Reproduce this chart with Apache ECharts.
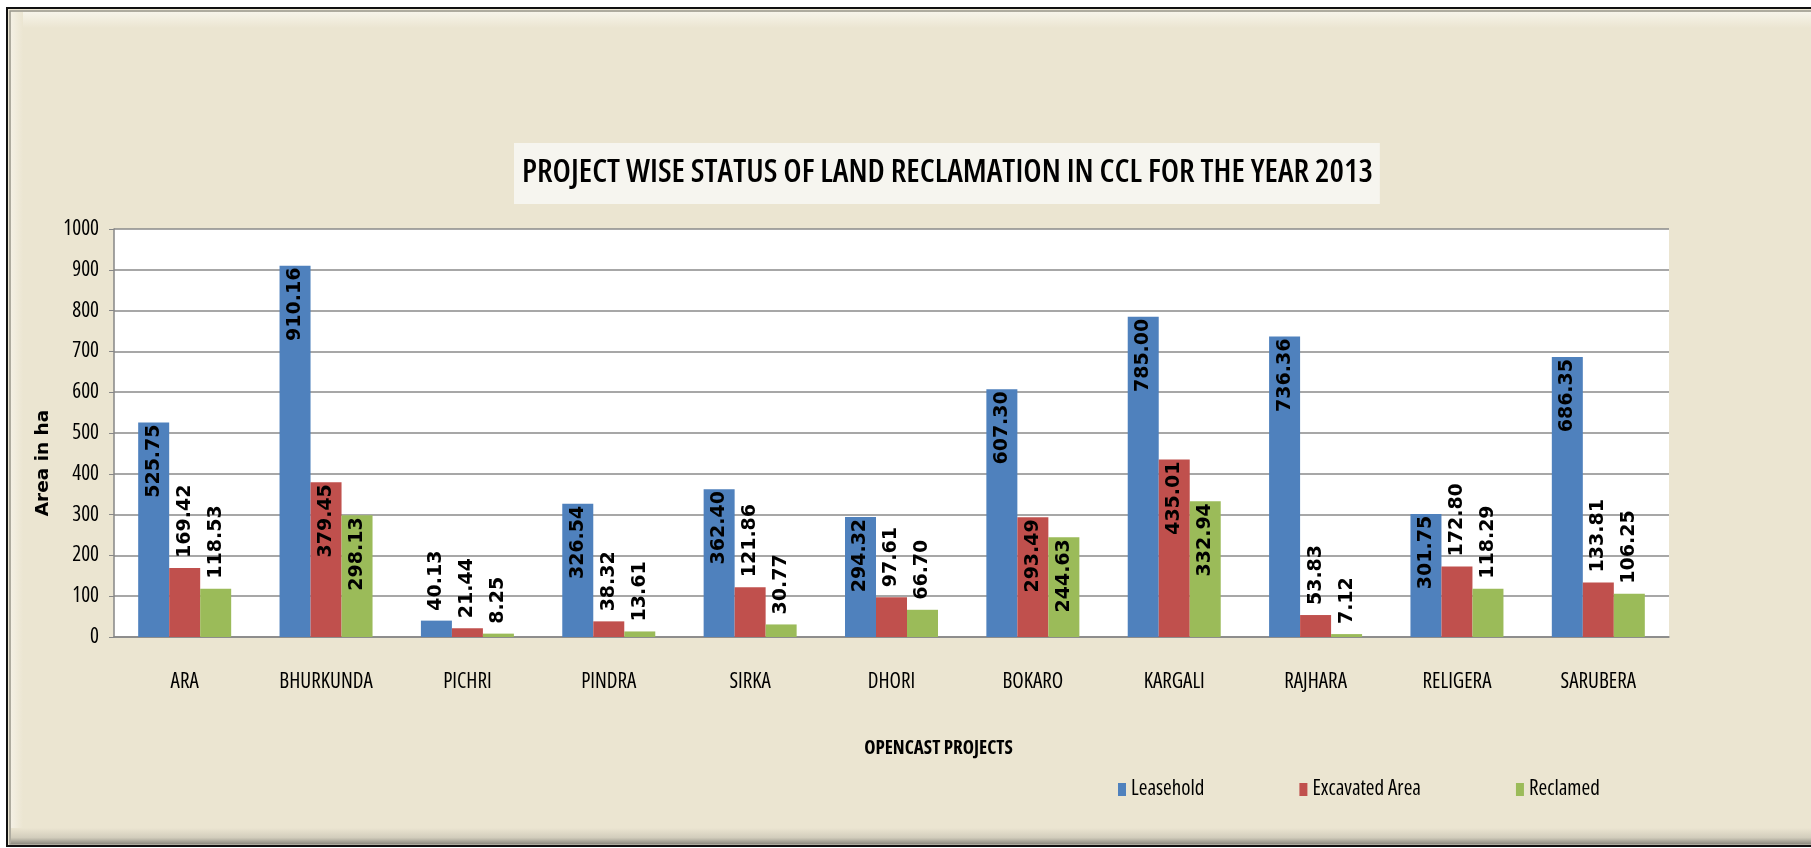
<!DOCTYPE html>
<html>
<head>
<meta charset="utf-8">
<script src="https://cdn.jsdelivr.net/npm/echarts@6/dist/echarts.min.js"></script>
<style>
html,body{margin:0;padding:0;background:#fff;}
#chart{width:1811px;height:848px;}
</style>
</head>
<body>
<div id="chart"></div>
<script>
const categories = ['ARA','BHURKUNDA','PICHRI','PINDRA','SIRKA','DHORI','BOKARO','KARGALI','RAJHARA','RELIGERA','SARUBERA'];
const leasehold = [525.75, 910.16, 40.13, 326.54, 362.40, 294.32, 607.30, 785.00, 736.36, 301.75, 686.35];
const excavated = [169.42, 379.45, 21.44, 38.32, 121.86, 97.61, 293.49, 435.01, 53.83, 172.80, 133.81];
const reclamed  = [118.53, 298.13, 8.25, 13.61, 30.77, 66.70, 244.63, 332.94, 7.12, 118.29, 106.25];
const seriesNames = ['Leasehold', 'Excavated Area', 'Reclamed'];
const yTicks = { min: 0, max: 1000, interval: 100 };

const NARROW = "'Open Sans', 'DejaVu Sans', sans-serif";
const STRETCH = 'condensed';
const colors = ['#4f81bd', '#c0504d', '#9bbb59'];
const INSIDE_THRESHOLD = 200;

function toData(arr) {
  return arr.map(v => {
    const inside = v >= INSIDE_THRESHOLD;
    return {
      value: v,
      label: inside
        ? { position: 'insideTop', align: 'right', distance: 2 }
        : { position: 'top', align: 'left', distance: 10 }
    };
  });
}

const chart = echarts.init(document.getElementById('chart'), null, { renderer: 'canvas' });

const labelStyle = {
  show: true,
  rotate: 90,
  verticalAlign: 'middle',
  color: '#000',
  fontFamily: "'DejaVu Sans', Verdana, sans-serif",
  fontWeight: 'bold',
  fontSize: 19,
  formatter: p => Number(p.value).toFixed(2)
};

const option = {
  backgroundColor: '#ffffff',
  animation: false,
  graphic: [
    { type: 'rect', z: -10, silent: true,
      shape: { x: 7, y: 8, width: 1830, height: 838 },
      style: { fill: '#ebe5d1', stroke: '#111', lineWidth: 2 } },
    { type: 'rect', z: -9, silent: true,
      shape: { x: 10, y: 11, width: 1830, height: 833 },
      style: { fill: 'none', stroke: '#9a988f', lineWidth: 1.5 } },
    { type: 'rect', z: -8, silent: true,
      shape: { x: 11, y: 12, width: 1830, height: 16 },
      style: { fill: new echarts.graphic.LinearGradient(0, 0, 0, 1, [
        { offset: 0, color: '#f7f4ea' }, { offset: 1, color: '#ebe5d1' }]) } },
    { type: 'rect', z: -8, silent: true,
      shape: { x: 11, y: 12, width: 12, height: 830 },
      style: { fill: new echarts.graphic.LinearGradient(0, 0, 1, 0, [
        { offset: 0, color: '#f4f0e4' }, { offset: 1, color: '#ebe5d1' }]) } },
    { type: 'rect', z: -8, silent: true,
      shape: { x: 11, y: 828, width: 1830, height: 16 },
      style: { fill: new echarts.graphic.LinearGradient(0, 0, 0, 1, [
        { offset: 0, color: '#ebe5d1' }, { offset: 0.6, color: '#d2cdbc' }, { offset: 1, color: '#8f8c82' }]) } }
  ],
  title: {
    text: 'PROJECT WISE STATUS OF LAND RECLAMATION IN CCL FOR THE YEAR 2013',
    left: 514,
    top: 143,
    backgroundColor: '#f6f5ef',
    padding: [12, 7, 13, 8],
    textStyle: {
      fontFamily: NARROW,
      fontStyle: STRETCH,
      fontSize: 32.3,
      fontWeight: 600,
      color: '#000',
      lineHeight: 36
    }
  },
  legend: {
    data: seriesNames,
    left: 1113,
    top: 774,
    itemWidth: 8,
    itemHeight: 13,
    itemGap: 95,
    icon: 'rect',
    textStyle: { fontFamily: NARROW, fontStyle: STRETCH, fontSize: 21, color: '#000' }
  },
  grid: {
    left: 114, right: 142, top: 229, bottom: 211,
    show: true, backgroundColor: '#ffffff', borderWidth: 0
  },
  xAxis: {
    type: 'category',
    data: categories,
    name: 'OPENCAST PROJECTS',
    nameLocation: 'middle',
    nameGap: 102,
    nameTextStyle: { fontFamily: NARROW, fontStyle: STRETCH, fontSize: 19, fontWeight: 'bold', color: '#000', padding: [0, 0, 0, 94] },
    axisLine: { show: true, lineStyle: { color: '#868686', width: 1.5 } },
    axisTick: { show: false },
    axisLabel: { interval: 0, fontFamily: NARROW, fontStyle: STRETCH, fontSize: 21, color: '#000', margin: 35 }
  },
  yAxis: {
    type: 'value',
    min: yTicks.min, max: yTicks.max, interval: yTicks.interval,
    name: 'Area in ha',
    nameLocation: 'middle',
    nameGap: 60,
    nameTextStyle: { fontFamily: "'DejaVu Sans', sans-serif", fontSize: 18.5, fontWeight: 'bold', color: '#000', padding: [0, 60, 0, 0] },
    axisLine: { show: true, lineStyle: { color: '#868686', width: 1.5 } },
    axisTick: { show: true, inside: false, length: 5, lineStyle: { color: '#868686' } },
    splitLine: { show: true, lineStyle: { color: '#8a8a8a', width: 1.5 } },
    axisLabel: { fontFamily: NARROW, fontStyle: STRETCH, fontSize: 21, color: '#000', margin: 15, formatter: v => String(v) }
  },
  series: [
    { name: seriesNames[0], type: 'bar', data: toData(leasehold), barWidth: 31, barGap: '0%', itemStyle: { color: colors[0] }, label: labelStyle },
    { name: seriesNames[1], type: 'bar', data: toData(excavated), barWidth: 31, barGap: '0%', itemStyle: { color: colors[1] }, label: labelStyle },
    { name: seriesNames[2], type: 'bar', data: toData(reclamed), barWidth: 31, barGap: '0%', itemStyle: { color: colors[2] }, label: labelStyle }
  ]
};
chart.setOption(option);
</script>
</body>
</html>
